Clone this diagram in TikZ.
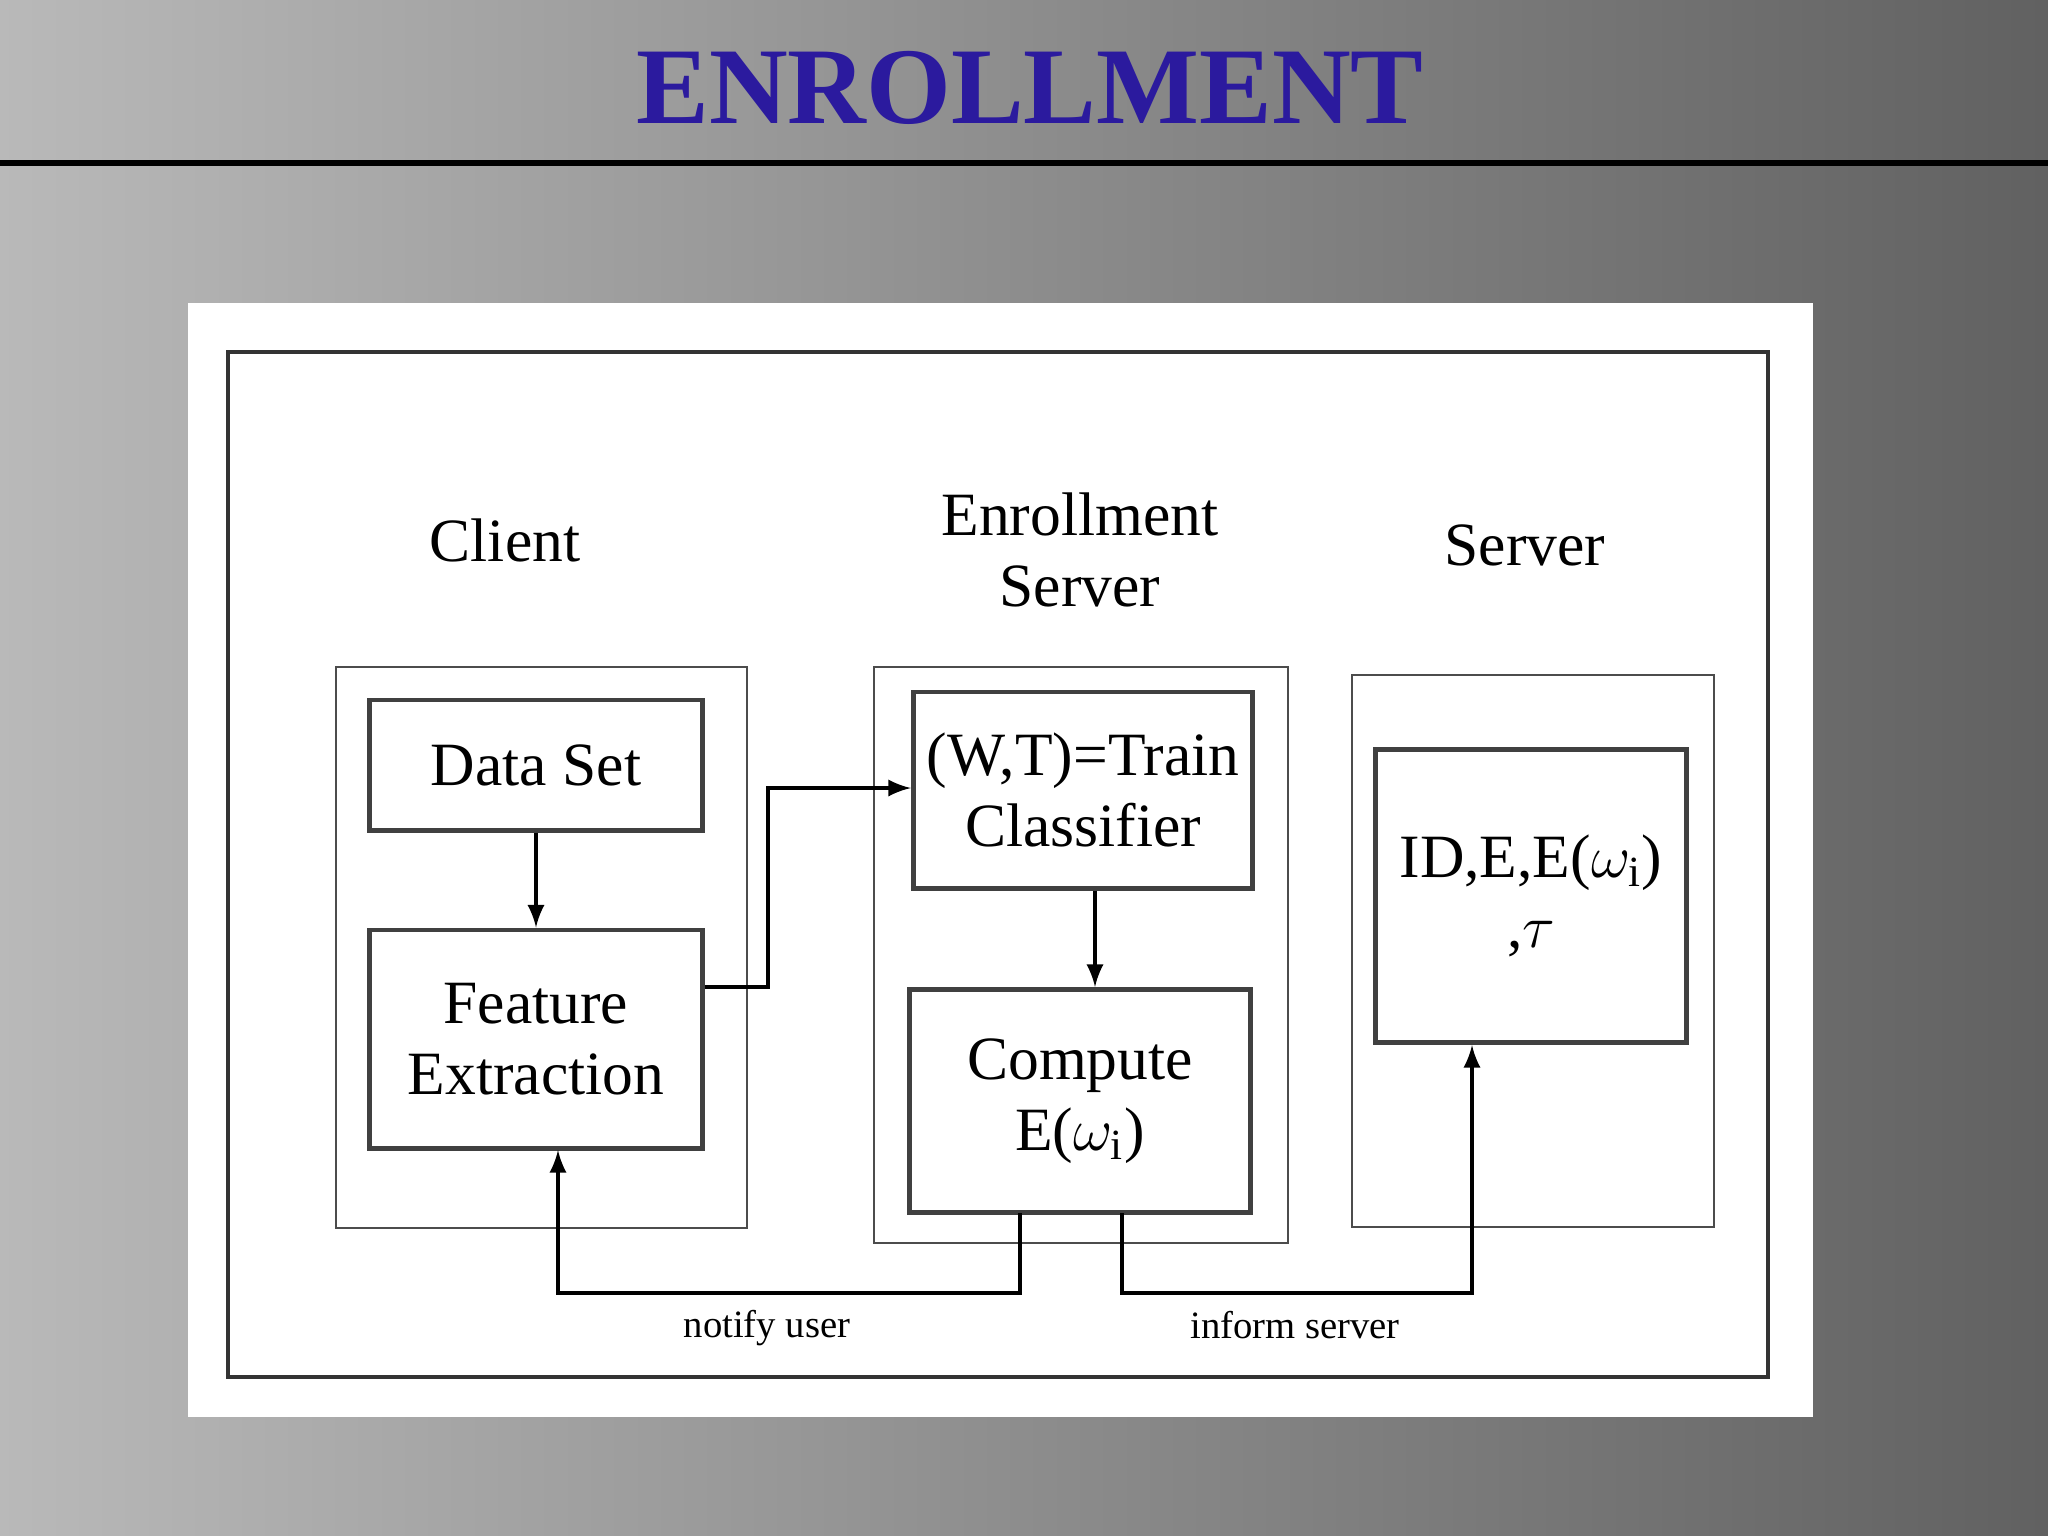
\documentclass[tikz,border=0pt]{standalone}
\usepackage{fontspec}
\setmainfont{Liberation Serif}
\definecolor{titleblue}{HTML}{2B1A9E}
\begin{document}
\begin{tikzpicture}[x=0.01cm,y=-0.01cm,
  box/.style={draw=black!75,line width=1.4pt,fill=white},
  col/.style={draw=black!70,line width=0.8pt},
  big/.style={font=\fontsize{17.5}{20}\selectfont,align=center},
  small/.style={font=\fontsize{11}{13}\selectfont},
  arr/.style={-latex,line width=1.2pt}]
\useasboundingbox (0,0) rectangle (2048,1535);
\shade[left color=gray!55!white,right color=black!62] (0,0) rectangle (2048,1535);
\node[font=\bfseries\fontsize{31}{34}\selectfont,text=titleblue] (title) at (1030,88) {ENROLLMENT};
\draw[line width=1.5pt] (0,163) -- (2048,163);
\fill[white] (188,303) rectangle (1813,1417);
\draw[line width=1.2pt,draw=black!80] (228,352) rectangle (1768,1377);
\node[big] (lc) at (505,540) {Client};
\node[big] (le) at (1080,550) {Enrollment\\Server};
\node[big] (ls) at (1525,545) {Server};
\draw[col] (336,667) rectangle (747,1228);
\draw[col] (874,667) rectangle (1288,1243);
\draw[col] (1352,675) rectangle (1714,1227);
\node[box,big,minimum width=3.32cm,minimum height=1.3cm] (ds) at (536,765) {Data Set};
\node[box,big,minimum width=3.32cm,minimum height=2.18cm] (fe) at (536,1039) {Feature\\Extraction};
\node[box,big,minimum width=3.39cm,minimum height=1.96cm,inner sep=1pt] (tr) at (1083,790) {(W,T)=Train\\Classifier};
\node[box,big,minimum width=3.4cm,minimum height=2.23cm] (co) at (1080,1101) {Compute\\E($\omega_{\mathrm{i}}$)};
\node[box,big,minimum width=3.1cm,minimum height=2.93cm,inner sep=1pt] (id) at (1531,896) {ID,E,E($\omega_{\mathrm{i}}$)\\,$\tau$};
\draw[arr] (ds.south) -- (fe.north);
\draw[arr] (fe.east |- 0,987) -- (768,987) -- (768,788) -- (tr.west |- 0,788);
\draw[arr] (tr.south -| 1095,0) -- (co.north -| 1095,0);
\coordinate (c1) at (1020,1213);
\coordinate (c2) at (1122,1213);
\draw[arr] (c1) -- (1020,1293) -- (558,1293) -- (558,1150);
\draw[arr] (c2) -- (1122,1293) -- (1472,1293) -- (1472,1045);
\node[small] (nu) at (767,1328) {notify user};
\node[small] (is) at (1295,1325) {inform server};
\end{tikzpicture}
\end{document}
